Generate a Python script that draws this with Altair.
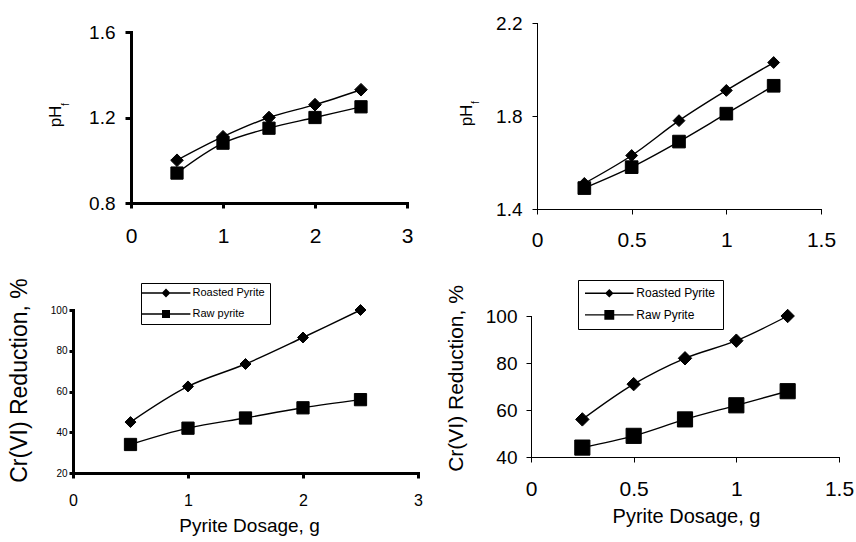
import altair as alt
import pandas as pd

FONT = "Liberation Sans"
W, H = 856, 542

# ---------------- data ----------------
tl_dose = [0.5, 1.0, 1.5, 2.0, 2.5]
tl_roasted = [1.00, 1.11, 1.20, 1.26, 1.33]
tl_raw = [0.94, 1.08, 1.15, 1.20, 1.25]

tr_dose = [0.25, 0.5, 0.75, 1.0, 1.25]
tr_roasted = [1.51, 1.63, 1.78, 1.91, 2.03]
tr_raw = [1.49, 1.58, 1.69, 1.81, 1.93]

bl_dose = [0.5, 1.0, 1.5, 2.0, 2.5]
bl_roasted = [45, 62.5, 73.5, 86.5, 100]
bl_raw = [34, 42, 47, 52, 56]

br_dose = [0.25, 0.5, 0.75, 1.0, 1.25]
br_roasted = [56, 71, 82, 89.5, 100]
br_raw = [44, 49, 56, 62, 68]

top_names = ["Roasted Pyrite", "Raw Pyrite"]
bl_names = ["Roasted Pyrite", "Raw pyrite"]
br_names = ["Roasted Pyrite", "Raw Pyrite"]

x_ticks_a = [0, 1, 2, 3]
x_ticks_b = [0, 0.5, 1, 1.5]
tl_yticks = [0.8, 1.2, 1.6]
tr_yticks = [1.4, 1.8, 2.2]
bl_yticks = [20, 40, 60, 80, 100]
br_yticks = [40, 60, 80, 100]

x_title = "Pyrite Dosage, g"
ph_title = "pH"
ph_sub = "f"
cr_title = "Cr(VI) Reduction, %"

LABEL_EXPR = "toString(datum.value)"


def frame(dose, roasted, raw, names):
    return pd.DataFrame({
        "dose": list(dose) + list(dose),
        "value": list(roasted) + list(raw),
        "series": [names[0]] * len(dose) + [names[1]] * len(dose),
    })


def panel(df, names, xdom, xvals, ydom, yvals, s):
    xs = alt.Scale(domain=xdom, range=s["xr"], nice=False, zero=False)
    ys = alt.Scale(domain=ydom, range=s["yr"], nice=False, zero=False)
    common = dict(grid=False, domainColor="black", tickColor="black", labelColor="black",
                  labelFont=FONT, titleFont=FONT, titleColor="black", titleFontWeight="normal",
                  labelFlush=False, labelOverlap=False, labelExpr=LABEL_EXPR,
                  domainWidth=s["aw"], tickWidth=s["aw"], domainCap="square")
    xaxis_kw = dict(orient="bottom", offset=s["yr"][0] - H, values=xvals,
                    tickSize=s["xts"], labelFontSize=s["xlfs"], labelPadding=s["xlp"], **common)
    if s.get("xtitle"):
        xaxis = alt.Axis(title=s["xtitle"], titleFontSize=s["xtfs"], titleX=s["xtx"],
                         titleY=s["xty"], titleBaseline="middle", titleAlign="center", **xaxis_kw)
    else:
        xaxis = alt.Axis(title=None, **xaxis_kw)
    yaxis = alt.Axis(orient="left", offset=-s["xr"][0], values=yvals, tickSize=s["yts"],
                     labelFontSize=s["ylfs"], labelPadding=s["ylp"],
                     title=s["ytitle"], titleFontSize=s["ytfs"], titleX=s["ytx"], titleY=s["yty"],
                     titleAngle=270, titleBaseline="middle", titleAlign="center", **common)

    base = alt.Chart(df)
    line = base.mark_line(color="black", strokeWidth=1.4, interpolate="catmull-rom").encode(
        x=alt.X("dose:Q", scale=xs, axis=xaxis),
        y=alt.Y("value:Q", scale=ys, axis=yaxis),
        detail="series:N",
    )
    pts_a = base.transform_filter(alt.datum.series == names[0]).mark_point(
        shape="diamond", filled=True, color="black", stroke="black", strokeWidth=1,
        size=s["dsize"], opacity=1).encode(
        x=alt.X("dose:Q", scale=xs, axis=None),
        y=alt.Y("value:Q", scale=ys, axis=None),
    )
    sub_axis = alt.Axis(orient="left", offset=-s["xr"][0], labels=False, ticks=False,
                        domain=False, grid=False, title=s["sub"], titleFont=FONT,
                        titleFontSize=s["subfs"], titleColor="black", titleFontWeight="normal",
                        titleX=s["subx"], titleY=s["suby"], titleAngle=270,
                        titleBaseline="middle", titleAlign="center") if s.get("sub") else None
    pts_b = base.transform_filter(alt.datum.series == names[1]).mark_point(
        shape="square", filled=True, color="black", stroke="black", strokeWidth=1,
        size=s["ssize"], opacity=1).encode(
        x=alt.X("dose:Q", scale=xs, axis=None),
        y=alt.Y("value:Q", scale=ys, axis=sub_axis),
    )
    layers = [line, pts_a, pts_b]
    if s.get("legend"):
        lg = s["legend"]
        hl, lw, dm, sq = lg["half"], lg["lw"], lg["dm"], lg["sq"]
        bar = f"M-{hl},-{lw}H{hl}V{lw}H-{hl}Z"
        path_d = f"{bar}M0,-{dm}L{dm},0L0,{dm}L-{dm},0Z"
        path_s = f"{bar}M-{sq},-{sq}H{sq}V{sq}H-{sq}Z"
        leg = base.mark_point(opacity=0, filled=True, color="black").encode(
            x=alt.X("dose:Q", scale=xs, axis=None),
            y=alt.Y("value:Q", scale=ys, axis=None),
            shape=alt.Shape("series:N", scale=alt.Scale(domain=names, range=[path_d, path_s]),
                            legend=alt.Legend(
                                title=None, orient="none", legendX=lg["x"], legendY=lg["y"],
                                direction="vertical", fillColor="white", strokeColor="black",
                                padding=lg["pad"], cornerRadius=0, labelFont=FONT,
                                labelFontSize=lg["fs"], labelColor="black",
                                symbolSize=lg["size"], symbolFillColor="black",
                                symbolStrokeWidth=0, symbolOpacity=1,
                                symbolOffset=lg["soff"], labelOffset=lg["loff"],
                                rowPadding=lg["rp"])),
        )
        layers.append(leg)
    return alt.layer(*layers).resolve_axis(x="independent", y="independent")


tl_style = dict(xr=[131, 407], yr=[203, 32], aw=3, xts=5, yts=6, xlfs=21, ylfs=19,
                xlp=17, ylp=10, ytitle=ph_title, ytfs=17, ytx=55.5 - 131, yty=116,
                sub=ph_sub, subfs=10, subx=65 - 131, suby=104, dsize=160, ssize=150)
tr_style = dict(xr=[537, 821], yr=[209, 23], aw=1, xts=5, yts=5, xlfs=21, ylfs=19,
                xlp=15, ylp=10, ytitle=ph_title, ytfs=17, ytx=466 - 537, yty=115,
                sub=ph_sub, subfs=10, subx=475 - 537, suby=102, dsize=140, ssize=160)
bl_style = dict(xr=[73, 418], yr=[473, 310], aw=3, xts=5, yts=4, xlfs=16, ylfs=10,
                xlp=14, ylp=2, ytitle=cr_title, ytfs=23, ytx=19 - 73, yty=380,
                xtitle=x_title, xtfs=19, xtx=249, xty=52, dsize=120, ssize=150,
                legend=dict(x=141, y=283, pad=4.5, fs=11, size=64, half=6.1, lw=0.17,
                            dm=1.1, sq=1.0, soff=15, loff=21, rp=9))
br_style = dict(xr=[531, 839], yr=[457, 316], aw=1, xts=5, yts=5, xlfs=21, ylfs=19,
                xlp=16, ylp=9, ytitle=cr_title, ytfs=21, ytx=456 - 531, yty=378,
                xtitle=x_title, xtfs=20, xtx=686, xty=59, dsize=180, ssize=230,
                legend=dict(x=578, y=280, pad=7.3, fs=12, size=81, half=5.4, lw=0.15,
                            dm=0.95, sq=1.1, soff=18, loff=21, rp=9.6))

tl = panel(frame(tl_dose, tl_roasted, tl_raw, top_names), top_names, [0, 3], x_ticks_a,
           [0.8, 1.6], tl_yticks, tl_style)
tr = panel(frame(tr_dose, tr_roasted, tr_raw, top_names), top_names, [0, 1.5], x_ticks_b,
           [1.4, 2.2], tr_yticks, tr_style)
bl = panel(frame(bl_dose, bl_roasted, bl_raw, bl_names), bl_names, [0, 3], x_ticks_a,
           [20, 100], bl_yticks, bl_style)
br = panel(frame(br_dose, br_roasted, br_raw, br_names), br_names, [0, 1.5], x_ticks_b,
           [40, 100], br_yticks, br_style)

chart = alt.layer(tl, tr, bl, br).resolve_scale(
    x="independent", y="independent", shape="independent"
).properties(
    width=W, height=H, padding=0, background="white",
    autosize=alt.AutoSizeParams(type="none"),
).configure_view(stroke="transparent")

chart.save("out.html", embed_options={"renderer": "svg", "actions": False})
